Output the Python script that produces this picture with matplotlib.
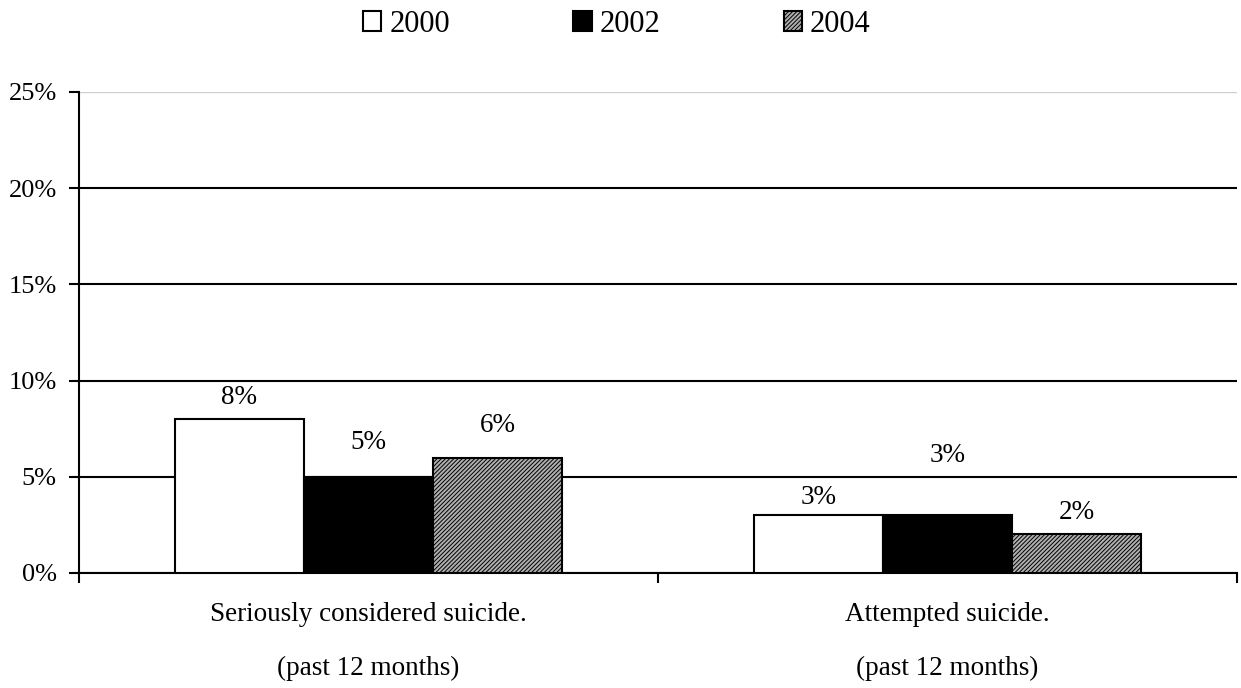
import matplotlib
matplotlib.use("Agg")
import matplotlib.pyplot as plt
import numpy as np

plt.rcParams['font.family'] = ['Liberation Serif', 'DejaVu Serif']
plt.rcParams['hatch.linewidth'] = 0.7

categories = ["Seriously considered suicide.\n(past 12 months)",
              "Attempted suicide.\n(past 12 months)"]
years = ["2000", "2002", "2004"]
values_2000 = [8, 3]
values_2002 = [5, 3]
values_2004 = [6, 2]
y_ticks = [0, 5, 10, 15, 20, 25]
y_tick_labels = ["0%", "5%", "10%", "15%", "20%", "25%"]


def main():
    fig = plt.figure(figsize=(12.41, 6.88), dpi=100)
    ax = fig.add_axes([0.0637, 0.1672, 0.9331, 0.6991])

    series = [values_2000, values_2002, values_2004]
    faces = ["white", "black", "#b0b0b0"]
    hatches = [None, None, "////////"]
    # how far (px) each label sits above its bar, as in the original
    lift = [[22, 18], [34, 60], [32, 22]]

    x = np.arange(len(categories))
    width = 0.223

    for i, vals in enumerate(series):
        bars = ax.bar(x + (i - 1) * width, vals, width,
                      color=faces[i], edgecolor="black", linewidth=1.5,
                      hatch=hatches[i], label=years[i], zorder=3)
        for j, b in enumerate(bars):
            ax.annotate("%d%%" % vals[j],
                        (b.get_x() + b.get_width() / 2, b.get_height()),
                        xytext=(0, lift[i][j] * 0.72), textcoords="offset points",
                        ha="center", va="center", fontsize=19.5)

    ax.set_xlim(-0.5, 1.5)
    ax.set_ylim(0, 25)
    ax.set_yticks(y_ticks)
    ax.set_yticklabels(y_tick_labels, fontsize=19)

    ax.set_xticks([-0.5, 0.5, 1.5])
    ax.set_xticklabels([])
    ax.set_xticks(x, minor=True)
    ax.set_xticklabels(categories, minor=True, fontsize=19.5, linespacing=2.5)
    ax.tick_params(axis="x", which="minor", length=0, pad=21)
    ax.tick_params(axis="x", which="major", length=7, width=1.5, direction="out")
    ax.tick_params(axis="y", length=7, width=1.5, direction="out", pad=9)

    ax.grid(axis="y", color="black", linewidth=1.5, zorder=1)
    ax.set_axisbelow(True)
    ax.get_ygridlines()[-1].set_color("#d0d0d0")
    ax.get_ygridlines()[-1].set_linewidth(1.0)

    for side in ["top", "right"]:
        ax.spines[side].set_visible(False)
    for side in ["left", "bottom"]:
        ax.spines[side].set_linewidth(1.5)

    fig.legend(loc="center", bbox_to_anchor=(0.497, 0.965), ncol=3,
               frameon=False, fontsize=22, handlelength=0.6, handleheight=0.6,
               handletextpad=0.26, columnspacing=4.04)

    fig.savefig("out.png", dpi=100)


main()
